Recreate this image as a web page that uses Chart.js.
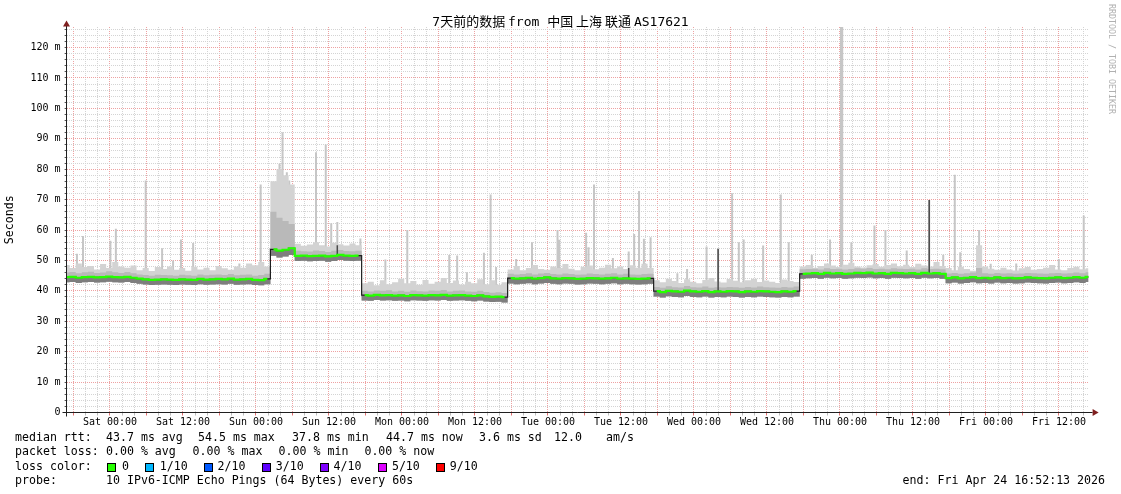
<!DOCTYPE html>
<html><head><meta charset="utf-8">
<script src="https://cdn.jsdelivr.net/npm/chart.js@4.4.1/dist/chart.umd.min.js"></script>
<style>html,body{margin:0;padding:0;background:#fff;}#c{display:block;}</style>
</head><body>
<canvas id="c" width="1121" height="494"></canvas>
<script>
// ---------- data ----------
const chartTitle = "7天前的数据 from 中国 上海 联通 AS17621";
const yAxisTitle = "Seconds";
const xTickLabels = ["Sat 00:00","Sat 12:00","Sun 00:00","Sun 12:00","Mon 00:00","Mon 12:00","Tue 00:00","Tue 12:00","Wed 00:00","Wed 12:00","Thu 00:00","Thu 12:00","Fri 00:00","Fri 12:00"];
const spanHours = 168;            // 7 days, start Fri 16:52:13
const firstGridOffset = 1.1297;   // hours from start to Fri 18:00
const firstGridHour = 18;

// hourly median rtt (ms), hour 0..168
const medianRtt = [
 44.5,44.6,44.3,44.5,44.6,44.4,44.5,44.7,44.5,44.4,44.6,
 44.3,44.0,43.8,43.6,43.7,43.8,
 43.7,43.6,43.8,43.7,43.6,43.9,43.7,43.8,43.9,43.8,44.0,43.7,43.8,43.9,43.6,43.5,43.9,
 53.6,53.2,53.5,54.0,
 51.5,51.6,51.4,51.5,51.6,51.3,51.5,51.8,51.6,51.5,51.6,
 38.6,38.4,38.7,38.5,38.6,38.4,38.5,38.3,38.6,38.5,38.4,38.6,38.5,38.7,38.4,38.5,38.6,38.4,38.3,38.5,38.2,38.0,38.1,37.9,
 44.2,44.0,44.1,44.3,44.0,44.2,44.4,44.1,44.0,44.2,44.1,43.9,44.0,44.2,44.1,44.0,44.1,44.3,44.0,44.1,44.0,43.9,44.0,44.1,
 39.9,39.6,40.0,39.8,39.7,40.1,39.8,39.7,39.9,39.6,39.8,39.7,39.9,39.8,39.6,39.8,39.7,39.9,39.8,39.7,39.6,39.8,39.7,39.9,
 45.6,45.7,45.8,45.6,45.9,45.7,45.8,45.6,45.7,45.9,45.8,46.0,45.7,45.8,45.6,45.9,45.8,45.7,45.8,45.6,45.9,45.7,45.8,45.6,
 44.2,44.4,44.1,44.3,44.5,44.2,44.3,44.1,44.4,44.2,44.3,44.1,44.2,44.4,44.3,44.2,44.1,44.3,44.4,44.2,44.3,44.5,44.3,44.6
];
// upper edge of the light smoke
const smokeHigh = [
 48.5,47.5,49.0,47.8,48.2,47.0,48.8,47.5,49.5,48.0,47.6,48.3,46.8,47.5,46.5,47.8,47.2,48.0,46.9,47.5,46.6,47.9,47.0,47.6,46.8,48.2,47.4,46.9,48.0,47.6,49.0,48.4,49.5,48.0,
 76.0,80.0,78.0,75.0,
 55.5,54.8,55.2,56.0,55.0,54.6,55.8,55.3,54.9,55.6,55.0,
 42.5,43.0,41.8,43.5,42.2,42.8,44.0,42.5,43.2,42.0,43.6,42.3,43.0,44.2,42.6,43.4,42.1,43.0,42.5,43.8,42.2,43.5,42.0,42.8,
 47.0,48.2,46.8,47.5,48.5,47.2,46.9,48.0,47.5,48.8,47.3,46.8,47.9,48.3,47.1,47.6,48.6,47.4,48.0,47.2,48.4,47.6,48.9,47.5,
 43.5,42.8,44.0,43.2,42.6,43.8,43.0,42.5,43.6,44.2,43.1,42.7,43.9,43.3,42.8,43.5,44.0,42.9,43.4,43.0,42.6,43.7,43.2,42.9,
 48.0,48.5,47.6,48.2,49.0,48.3,47.8,48.6,49.2,48.0,47.7,48.4,48.8,47.9,48.5,49.0,48.1,48.6,47.8,48.9,48.3,48.0,49.5,48.2,
 47.5,46.8,47.9,47.2,46.6,55.0,48.0,47.3,46.9,47.6,47.0,46.7,47.4,47.8,46.9,47.2,47.6,48.5,47.0,46.8,47.5,47.9,47.1,47.4
];
// upper edge of the mid-grey smoke
const smokeMid = [
 46.0,46.2,45.8,46.1,46.3,45.9,46.0,46.4,46.1,45.9,46.2,45.8,45.4,45.2,45.0,45.3,45.2,45.1,45.0,45.3,45.1,45.0,45.4,45.1,45.3,45.4,45.2,45.5,45.1,45.3,45.4,45.0,45.2,45.6,
 66.0,64.0,63.0,62.0,
 53.2,53.0,52.9,53.3,53.1,52.8,53.2,53.4,53.1,53.0,53.2,
 40.0,39.8,40.1,40.0,40.2,39.8,40.0,39.7,40.1,39.9,39.8,40.1,40.0,40.3,39.8,40.0,40.1,39.8,39.7,40.0,39.6,39.4,39.5,39.3,
 45.6,45.4,45.5,45.8,45.4,45.7,45.9,45.5,45.4,45.7,45.5,45.3,45.4,45.7,45.5,45.4,45.6,45.8,45.4,45.6,45.4,45.3,45.5,45.6,
 41.3,41.0,41.5,41.2,41.1,41.6,41.2,41.1,41.4,41.0,41.2,41.1,41.3,41.2,41.0,41.3,41.1,41.4,41.2,41.1,41.0,41.3,41.1,41.4,
 47.1,47.2,47.3,47.0,47.4,47.2,47.3,47.0,47.2,47.4,47.3,47.5,47.2,47.3,47.1,47.4,47.3,47.2,47.3,47.0,47.4,47.2,47.3,47.1,
 45.7,45.9,45.6,45.8,46.0,47.5,45.8,45.6,45.9,45.7,45.8,45.6,45.7,45.9,45.8,45.7,45.6,45.8,45.9,45.7,45.8,46.0,45.8,46.1
];
// lower edge of the smoke
const smokeLow = [
 42.8,42.9,42.6,42.8,42.9,42.7,42.8,43.0,42.8,42.7,42.9,42.6,42.3,42.1,41.9,42.0,42.1,42.0,41.9,42.1,42.0,41.9,42.2,42.0,42.1,42.2,42.1,42.3,42.0,42.1,42.2,41.9,41.8,42.2,
 51.5,51.0,51.3,51.8,
 49.8,49.9,49.7,49.8,49.9,49.6,49.8,50.1,49.9,49.8,49.9,
 36.8,36.7,37.0,36.8,36.9,36.7,36.8,36.6,36.9,36.8,36.7,36.9,36.8,37.0,36.7,36.8,36.9,36.7,36.6,36.8,36.5,36.3,36.4,36.2,
 42.4,42.2,42.3,42.5,42.2,42.4,42.6,42.3,42.2,42.4,42.3,42.1,42.2,42.4,42.3,42.2,42.3,42.5,42.2,42.3,42.2,42.1,42.2,42.3,
 38.1,37.8,38.2,38.0,37.9,38.3,38.0,37.9,38.1,37.8,38.0,37.9,38.1,38.0,37.8,38.0,37.9,38.1,38.0,37.9,37.8,38.0,37.9,38.1,
 44.0,44.1,44.2,44.0,44.3,44.1,44.2,44.0,44.1,44.3,44.2,44.4,44.1,44.2,44.0,44.3,44.2,44.1,44.2,44.0,44.3,44.1,44.2,44.0,
 42.5,42.7,42.4,42.6,42.8,42.5,42.6,42.4,42.7,42.5,42.6,42.4,42.5,42.7,42.6,42.5,42.4,42.6,42.7,42.5,42.6,42.8,42.6,42.9
];
// single-ping outliers [hour, ms]
const lightSpikes = [
 [1.7,52.2],[2.7,58.0],[7.2,56.5],[8.1,60.4],[13.0,76.3],[15.7,54.0],[17.5,50.0],[18.8,56.9],[20.8,55.7],[28.4,49.0],[31.9,75.0],
 [34.1,73.6],[35.0,81.8],[35.5,92.1],[36.2,79.0],[36.6,76.3],
 [41.0,85.6],[42.6,88.1],[43.5,62.2],[44.5,62.6],[48.3,57.2],[52.4,50.3],[56.0,60.0],[62.9,51.8],[64.2,51.6],[65.8,46.1],
 [68.6,52.5],[69.7,71.7],[70.6,47.8],[73.9,50.5],[76.5,56.0],[80.7,60.0],[81.0,56.8],[85.4,59.1],[85.8,54.3],[86.7,75.0],
 [89.8,50.8],[92.4,52.9],[93.3,58.7],[94.1,72.8],[94.9,57.1],[96.0,57.6],
 [100.4,45.8],[102.0,47.2],[105.2,54.6],[107.1,53.8],[109.4,72.1],[110.5,56.0],[111.3,56.9],[114.5,54.9],[117.4,71.7],[118.7,56.0],
 [122.5,51.9],[125.5,56.9],[127.3,127.0],[127.5,127.0],[129.0,56.0],[132.8,61.5],[134.6,60.0],[138.1,53.3],[141.8,69.9],[144.1,51.9],
 [146.0,78.2],[146.9,52.7],[150.0,60.0],[151.9,48.9],[156.1,49.0],[163.1,50.5],[167.2,64.8]
];
const darkSpikes = [[44.5,55.0],[92.4,47.5],[107.1,53.8],[141.8,69.9]];

const legendMedianItems = ["43.7 ms avg","54.5 ms max","37.8 ms min","44.7 ms now","3.6 ms sd","12.0","am/s"];
const legendLossItems = ["0.00 % avg","0.00 % max","0.00 % min","0.00 % now"];
const lossLabels = ["0","1/10","2/10","3/10","4/10","5/10","9/10"];
const lossColors = ["#26ff00","#00b8ff","#0059ff","#5e00ff","#7e00ff","#dd00ff","#ff0000"];
const probeText = "10 IPv6-ICMP Echo Pings (64 Bytes) every 60s";
const endText = "end: Fri Apr 24 16:52:13 2026";
const creditText = "RRDTOOL / TOBI OETIKER";

// ---------- layout / style ----------
const MONO_ONLY = '"DejaVu Sans Mono", monospace';
const MONO = '"DejaVu Sans Mono", "Noto Sans CJK SC", monospace';
const CJK = '"Noto Sans CJK SC", "DejaVu Sans Mono", sans-serif';
const RED_GRID = '#eea2a2';
const GRAY_GRID = '#d4d4d4';

const hours = medianRtt.map((_, i) => i);
const pts = arr => arr.map((v, i) => ({x: hours[i], y: v}));
function spikeData(list) {
  const d = [];
  list.forEach(([h, v]) => {
    const base = medianRtt[Math.round(h)];
    d.push({x: h, y: base}, {x: h, y: v}, {x: h, y: null});
  });
  return d;
}
function hourOfDay(v) {
  const k = Math.round((v - firstGridOffset) / 2);
  return {k, hod: (firstGridHour + 2 * k) % 24};
}
function isCJK(ch) { return /[\u3000-\u9fff\uff00-\uffef]/.test(ch); }
function titleRuns(text) {
  // spaces take the font of the preceding character (as the original renderer did)
  const runs = [];
  let prev = 'mono';
  for (const ch of text) {
    const cls = ch === ' ' ? prev : (isCJK(ch) ? 'cjk' : 'mono');
    prev = cls;
    if (runs.length && runs[runs.length - 1].cls === cls) runs[runs.length - 1].t += ch;
    else runs.push({cls, t: ch});
  }
  return runs;
}

const decor = {
  id: 'decor',
  afterDatasetsDraw(chart) {
    const ctx = chart.ctx, ca = chart.chartArea;
    const ys = chart.scales.y;
    const y0 = Math.round(ys.getPixelForValue(0) - 0.5) + 0.5;
    const xl = Math.round(ca.left - 0.5) + 0.5;
    ctx.save();
    ctx.strokeStyle = '#1f1f1f';
    ctx.lineWidth = 1;
    ctx.beginPath();
    ctx.moveTo(xl, y0 + 4); ctx.lineTo(xl, ca.top - 1);
    ctx.moveTo(xl - 4, y0); ctx.lineTo(ca.right + 4, y0);
    ctx.stroke();
    ctx.fillStyle = '#7f1f1f';
    ctx.beginPath();
    ctx.moveTo(xl - 3.5, ca.top - 0.5); ctx.lineTo(xl + 3.5, ca.top - 0.5); ctx.lineTo(xl, ca.top - 6.5); ctx.closePath(); ctx.fill();
    ctx.beginPath();
    ctx.moveTo(ca.right + 4, y0 - 3.5); ctx.lineTo(ca.right + 4, y0 + 3.5); ctx.lineTo(ca.right + 10, y0); ctx.closePath(); ctx.fill();
    ctx.restore();
  },
  afterDraw(chart) {
    const ctx = chart.ctx;
    ctx.save();
    // title
    const runs = titleRuns(chartTitle);
    const fontFor = cls => '13px ' + (cls === 'cjk' ? CJK : MONO_ONLY);
    let total = 0;
    runs.forEach(r => { ctx.font = fontFor(r.cls); r.w = ctx.measureText(r.t).width; total += r.w; });
    let tx = 560.5 - total / 2;
    ctx.fillStyle = '#000';
    ctx.textAlign = 'left';
    ctx.textBaseline = 'alphabetic';
    runs.forEach(r => { ctx.font = fontFor(r.cls); ctx.fillText(r.t, tx, 25.5); tx += r.w; });

    // legend
    ctx.font = '11.6px ' + MONO;
    ctx.textBaseline = 'middle';
    const rows = [438, 452.3, 466.6, 481];
    const lx = 15;
    ctx.fillText('median rtt:', lx, rows[0]);
    const medX = [106, 198, 292, 386, 479, 554, 606];
    legendMedianItems.forEach((t, i) => ctx.fillText(t, medX[i], rows[0]));
    ctx.fillText('packet loss:', lx, rows[1]);
    const lossX = [106, 192.6, 278.6, 364.4];
    legendLossItems.forEach((t, i) => ctx.fillText(t, lossX[i], rows[1]));
    ctx.fillText('loss color:', lx, rows[2]);
    const boxX = [107, 145.4, 203.6, 261.8, 319.6, 377.9, 435.7];
    const labX = [122, 159.7, 217.6, 275.8, 333.6, 391.9, 449.7];
    lossLabels.forEach((t, i) => {
      ctx.fillStyle = '#000';
      ctx.fillRect(Math.round(boxX[i]), Math.round(rows[2] - 4), 9, 9);
      ctx.fillStyle = lossColors[i];
      ctx.fillRect(Math.round(boxX[i]) + 1, Math.round(rows[2] - 4) + 1, 7, 7);
      ctx.fillStyle = '#000';
      ctx.fillText(t, labX[i], rows[2]);
    });
    ctx.fillText('probe:', lx, rows[3]);
    ctx.fillText(probeText, 106, rows[3]);
    ctx.textAlign = 'right';
    ctx.fillText(endText, 1105, rows[3]);
    // credit
    ctx.translate(1111, 4);
    ctx.rotate(Math.PI / 2);
    ctx.textAlign = 'left';
    ctx.fillStyle = '#b0b0b0';
    ctx.font = '8.3px ' + MONO;
    ctx.fillText(creditText, 0, 0);
    ctx.restore();
  }
};

const lineBase = {type: 'line', pointRadius: 0, borderWidth: 0, tension: 0};
const stepJump = c => Math.abs(c.p0.parsed.y - c.p1.parsed.y) > 3;
const majorX = c => !!(c.tick && hourOfDay(c.tick.value).hod % 6 === 0);
const majorY = c => !!(c.tick && c.tick.value % 10 === 0);

new Chart(document.getElementById('c'), {
  type: 'line',
  data: {
    datasets: [
      Object.assign({}, lineBase, {label: 'median', data: pts(medianRtt), borderColor: '#26ff00', borderWidth: 2.2, stepped: 'middle', fill: false, order: 1,
        segment: {borderColor: c => stepJump(c) ? 'rgba(0,0,0,0)' : undefined}}),
      Object.assign({}, lineBase, {label: 'low', data: pts(smokeLow), stepped: 'middle', fill: false, borderColor: 'rgba(0,0,0,0)', order: 2}),
      Object.assign({}, lineBase, {label: 'high', data: pts(smokeHigh), stepped: 'middle', fill: 1, backgroundColor: '#d3d3d3', borderColor: 'rgba(0,0,0,0)', order: 30}),
      Object.assign({}, lineBase, {label: 'mid', data: pts(smokeMid), stepped: 'middle', fill: 1, backgroundColor: '#b9b9b9', borderColor: 'rgba(0,0,0,0)', order: 28}),
      Object.assign({}, lineBase, {label: 'dark', data: pts(medianRtt), stepped: 'middle', fill: 1, backgroundColor: '#7e7e7e', borderColor: 'rgba(0,0,0,0)', order: 26}),
      Object.assign({}, lineBase, {label: 'spikes', data: spikeData(lightSpikes), borderColor: '#c6c6c6', borderWidth: 2, spanGaps: false, fill: false, order: 32}),
      Object.assign({}, lineBase, {label: 'darkSpikes', data: spikeData(darkSpikes), borderColor: '#4a4a4a', borderWidth: 1.5, spanGaps: false, fill: false, order: 20}),
      Object.assign({}, lineBase, {label: 'medianEdge', data: pts(medianRtt), borderColor: '#1e1e1e', borderWidth: 1.2, stepped: 'middle', fill: false, order: 3})
    ]
  },
  options: {
    responsive: false,
    devicePixelRatio: 1,
    animation: false,
    layout: {padding: {left: 0, right: 32.4, top: 27, bottom: 0}},
    plugins: {
      legend: {display: false},
      tooltip: {enabled: false},
      title: {display: false}
    },
    scales: {
      x: {
        type: 'linear', min: 0, max: spanHours, position: 'bottom',
        afterBuildTicks: s => { const t = []; for (let k = 0; firstGridOffset + 2 * k <= spanHours; k++) t.push({value: firstGridOffset + 2 * k}); s.ticks = t; },
        afterFit: s => { s.height = 81.5; s.paddingLeft = 0; s.paddingRight = 0; },
        grid: {
          color: c => majorX(c) ? RED_GRID : GRAY_GRID,
          lineWidth: 1, tickLength: 3, tickColor: c => majorX(c) ? '#e07070' : '#bbbbbb', tickBorderDash: []
        },
        border: {display: false, dash: [1, 1]},
        ticks: {
          autoSkip: false, maxRotation: 0, minRotation: 0, padding: 0.5, color: '#000',
          font: {family: MONO, size: 10},
          callback: (v) => { const {k, hod} = hourOfDay(v); return hod % 12 === 0 ? (xTickLabels[(k - 3) / 6] || '') : ''; }
        }
      },
      y: {
        min: 0, max: 126.74,
        afterBuildTicks: s => { const t = []; for (let v = 0; v <= 126; v += 2) t.push({value: v}); s.ticks = t; },
        afterFit: s => { s.width = 66.6; s.paddingTop = 0; s.paddingBottom = 0; },
        grid: {
          color: c => majorY(c) ? RED_GRID : GRAY_GRID,
          lineWidth: 1, tickLength: 2, tickColor: '#555', tickBorderDash: []
        },
        border: {display: false, dash: [1, 1]},
        ticks: {
          autoSkip: false, padding: 4, color: '#000', font: {family: MONO, size: 10},
          callback: v => v === 0 ? '0' : (v % 10 === 0 ? v + ' m' : '')
        },
        title: {display: true, text: yAxisTitle, color: '#000', font: {family: MONO, size: 11.6}, padding: {top: 3, bottom: 0}}
      }
    }
  },
  plugins: [decor]
});
</script>
</body></html>
